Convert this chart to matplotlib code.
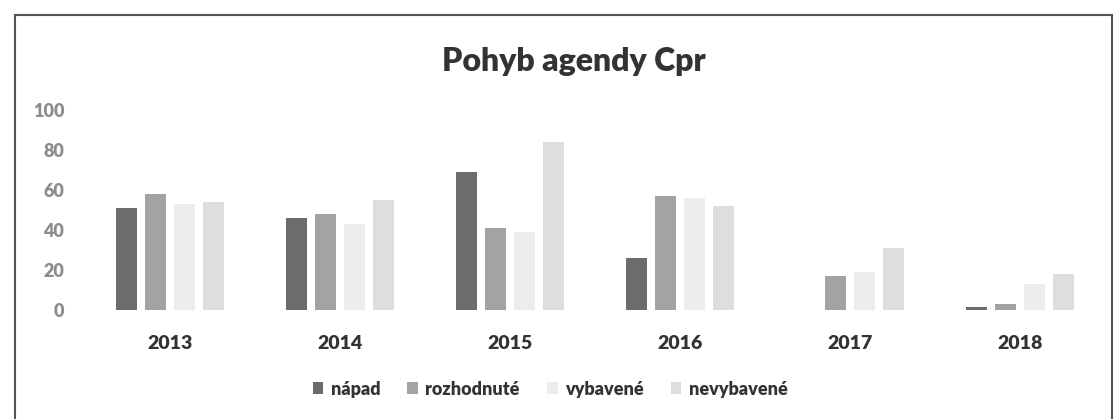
import numpy as np
import matplotlib.pyplot as plt
from matplotlib.patches import Rectangle

years = ["2013", "2014", "2015", "2016", "2017", "2018"]
series = ["nápad", "rozhodnuté", "vybavené", "nevybavené"]
napad = [51, 46, 69, 26, 0, 1.5]
rozhodnute = [58, 48, 41, 57, 17, 3]
vybavene = [53, 43, 39, 56, 19, 13]
nevybavene = [54, 55, 84, 52, 31, 18]
colors = ["#6c6c6c", "#a3a3a3", "#ececec", "#dedede"]

plt.rcParams['font.family'] = ['Lato', 'DejaVu Sans']

fig = plt.figure(figsize=(11.19, 4.19), dpi=100)
ax = fig.add_axes([85 / 1119, 1 - 310 / 419, 1020 / 1119, 200 / 419])

x = np.arange(len(years))
pitch = 0.17
width = 0.125
for i, (vals, name) in enumerate(zip([napad, rozhodnute, vybavene, nevybavene], series)):
    ax.bar(x + (i - 1.5) * pitch, vals, width, color=colors[i], label=name)

ax.set_xlim(-0.5, len(years) - 0.5)
ax.set_ylim(0, 100)
ax.set_yticks(range(0, 101, 20))
ax.set_xticks(x)
ax.set_xticklabels(years, fontsize=14, fontweight='heavy', color='#333333')
for t in ax.get_yticklabels():
    t.set_fontsize(13)
    t.set_fontweight('heavy')
    t.set_color('#8c8c8c')
ax.tick_params(length=0)
ax.tick_params(axis='x', pad=18)
ax.tick_params(axis='y', pad=15)
for s in ax.spines.values():
    s.set_visible(False)

fig.text(574 / 1119, 1 - 62 / 419, "Pohyb agendy Cpr", ha='center', va='center',
         fontsize=23, fontweight='heavy', color='#333333')

fig.legend(loc='center', bbox_to_anchor=(550 / 1119, 1 - 389 / 419), ncol=4, frameon=False,
           prop={'size': 13, 'weight': 'heavy'}, handlelength=0.6, handleheight=0.6,
           columnspacing=1.5, handletextpad=0.4, labelcolor='#333333')

fig.patches.append(Rectangle((15 / 1119, -0.1), 1097 / 1119, 1.1 - 15 / 419,
                             transform=fig.transFigure, fill=False,
                             edgecolor='#555555', linewidth=1.5))

fig.savefig("out.png", dpi=100)
